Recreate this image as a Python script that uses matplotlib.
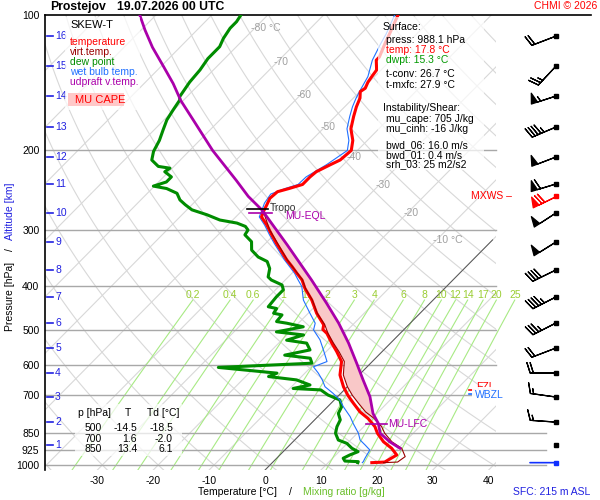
import numpy as np
import matplotlib
matplotlib.use('Agg')
import matplotlib.pyplot as plt
from matplotlib.patches import Rectangle
from matplotlib.transforms import blended_transform_factory
from matplotlib.ticker import NullLocator

plt.rcParams['font.family'] = ['Liberation Sans', 'DejaVu Sans']

# ---------------- data ----------------
temp_p = [988.1, 985, 950, 918, 888, 850, 822, 788, 762, 729, 700, 670, 631, 589, 560, 536, 510, 500, 488,
          460, 430, 405, 388, 375, 362, 350, 336, 322, 308, 293, 281, 273.5, 264, 255.5, 247, 243, 238, 229,
          223, 215, 210, 200, 190, 179, 168, 160, 153, 148, 145.5, 141, 137, 132.5, 126, 124, 115.6, 110, 100]
temp_t = [17.8, 20.0, 20.9, 18.8, 16.2, 13.6, 12.0, 9.3, 6.7, 4.0, 1.6, -0.7, -3.4, -5.5, -8.1, -10.5, -13.1,
          -14.5, -15.2, -18.5, -21.7, -25.0, -27.0, -29.1, -31.2, -33.3, -35.6, -38.0, -40.4, -43.0, -45.4,
          -46.0, -46.6, -47.2, -47.0, -45.5, -43.8, -43.8, -43.6, -42.3, -41.4, -41.1, -42.6, -45.0, -46.7,
          -47.9, -48.8, -49.9, -49.6, -50.2, -50.5, -50.8, -52.6, -52.6, -54.0, -54.9, -56.7]

virt_p = [988.1, 985, 958, 918, 888, 850, 822, 788, 762, 729, 700, 670, 631, 589, 560, 536, 510, 488, 460,
          430, 405, 388, 350, 300, 273.5]
virt_t = [19.9, 22.3, 22.7, 20.6, 17.7, 14.9, 13.2, 10.4, 7.7, 4.9, 2.4, 0.0, -2.8, -5.0, -7.7, -10.2, -12.9,
          -15.0, -18.4, -21.6, -24.9, -26.9, -33.2, -41.7, -46.0]

dew_p = [988.1, 983, 980, 966, 950, 934, 918, 895, 880, 850, 822, 794, 768, 742, 717, 705, 699, 681, 676, 664,
         647, 636, 625, 607, 594, 579, 570, 555, 536, 528, 514, 506, 493, 484, 480, 464, 460, 449, 445, 423,
         408, 398, 388, 382, 366, 353, 345, 333, 319, 308, 300.5, 295, 290, 285.5, 278, 271, 264, 257.6, 249,
         243, 240, 235, 229, 223, 219, 217, 210, 201, 190, 180, 171, 163, 154.5, 152, 141, 132.5, 125, 117.6,
         112.7, 107, 103.5, 100]
dew_t = [15.3, 15.2, 12.7, 11.9, 12.5, 13.4, 11.7, 9.9, 7.8, 6.1, 5.2, 4.6, 3.1, 2.5, 1.0, -1.0, -2.0, -4.2,
         -9.4, -7.0, -10.3, -15.9, -15.0, -26.5, -10.5, -11.7, -16.8, -13.2, -15.0, -19.1, -17.0, -22.4, -18.5,
         -22.1, -24.2, -24.4, -26.2, -26.5, -28.3, -28.6, -28.6, -29.7, -32.5, -33.6, -34.8, -36.5, -38.9,
         -41.3, -42.8, -45.2, -45.5, -46.6, -48.7, -52.3, -55.5, -59.1, -61.2, -63.0, -64.7, -67.4, -70.2,
         -68.6, -68.6, -70.7, -70.4, -72.8, -75.1, -76.3, -77.2, -78.4, -79.5, -80.1, -80.7, -81.3, -82.1,
         -82.4, -83.0, -83.0, -83.8, -84.4, -84.4, -84.8]

wetb_p = [988.1, 983, 966, 926, 903, 880, 850, 808, 781, 742, 717, 693, 670, 647, 625, 605, 589, 555, 527, 501,
          484, 460, 430, 401, 388, 375, 350, 322, 308, 293, 281, 273, 262, 250, 243, 238, 229, 215, 200, 190,
          179, 168, 160, 153, 145.5, 137, 126, 116, 110, 100]
wetb_t = [16.1, 16.1, 15.8, 15.2, 13.5, 11.7, 10.2, 7.5, 5.8, 2.8, 1.0, -1.4, -4.0, -5.7, -7.6, -9.6, -8.1,
          -10.8, -13.2, -16.1, -17.0, -19.7, -23.2, -25.9, -27.7, -29.5, -33.7, -38.4, -40.8, -43.4, -45.8,
          -46.4, -47.3, -47.8, -46.2, -44.6, -44.5, -43.0, -41.8, -43.3, -45.7, -47.4, -48.6, -49.5, -50.3,
          -51.2, -53.3, -54.7, -55.5, -57.3]

parcel_p = [918, 888, 850, 808, 768, 705, 647, 594, 536, 484, 437, 388, 324, 271, 253, 233, 200, 171, 155, 142,
            130, 118, 108, 100]
parcel_t = [20.3, 17.3, 14.1, 12.0, 9.3, 5.8, 1.6, -2.5, -7.5, -12.8, -18.5, -25.3, -35.9, -46.6, -51.4, -56.4,
            -65.9, -74.8, -80.4, -84.8, -89.6, -94.9, -99.3, -102.9]

alt_km = [1, 2, 3, 4, 5, 6, 7, 8, 9, 10, 11, 12, 13, 14, 15, 16]
alt_p = [902.8, 802.9, 706.3, 624.5, 549.5, 483.5, 423.2, 368.6, 319.5, 275.4, 237.4, 206.8, 177.4, 151.4,
         129.9, 111.4]
wind_dir = [0, 274, 278, 270, 249, 243, 243, 244, 238, 237, 253, 249, 247, 252, 223, 249]
wind_spd = [0, 15, 15, 20, 20, 35, 45, 40, 50, 50, 60, 50, 45, 55, 25, 20]
mxws_p, mxws_dir, mxws_spd = 252.5, 244, 70
sfc_p = 988.1

press_levels = [100, 200, 300, 400, 500, 600, 700, 850, 925, 1000]
temp_ticks = [-30, -20, -10, 0, 10, 20, 30, 40]
iso_label_T = [-80, -70, -60, -50, -40, -30, -20, -10]
iso_label_p = [106.7, 127.2, 150.6, 177.4, 207.0, 238.8, 275.4, 316.2]
mix_vals = [0.2, 0.4, 0.6, 1, 1.5, 2, 3, 4, 6, 8, 10, 12, 14, 17, 20, 25]
mix_labels = ['0.2', '0.4', '0.6', '1', '1.5', '2', '3', '4', '6', '8', '10', '12', '14', '17', '20', '25']

tropo_p, eql_p, lfc_p, fzl_p, wbzl_p = 270, 275, 810, 681, 695

table_p = ['500', '700', '850']
table_T = ['-14.5', '1.6', '13.4']
table_Td = ['-18.5', '-2.0', '6.1']

# ---------------- geometry ----------------
W, H = 600, 500
K = 79.6                       # skew (deg C per decade of pressure)
P_BOT = 1000 * 10 ** (5 / 450.)
X_L, X_R = (45 - 270) / 5.59, (591 - 270) / 5.59
X_DIAG = 40.4                  # right edge of the diagram grid
X_ISO_EXT = 49.4               # lower isobars extension
X_BARB = 51.16


def skx(T, p):
    return np.asarray(T, float) + K * np.log10(1000.0 / np.asarray(p, float))


RED = '#ff0000'
DRED = '#990000'
GREEN = '#008c00'
BLUE = '#2070ff'
PURP = '#aa00aa'
ALTB = '#2020e0'
MIXC = '#a8ea84'
MIXT = '#9acd32'

fig = plt.figure(figsize=(W / 100, H / 100), dpi=100)
ax = fig.add_axes([45 / W, 30 / H, 546 / W, 455 / H])
ax.set_yscale('log')
ax.set_ylim(P_BOT, 100)
ax.set_xlim(X_L, X_R)
for s in ['right', 'bottom']:
    ax.spines[s].set_visible(False)
ax.spines['top'].set_linewidth(1.2)
ax.spines['left'].set_linewidth(1.2)

clip = Rectangle((X_L, 100), X_DIAG - X_L, P_BOT - 100, transform=ax.transData, fc='none', ec='none')
ax.add_patch(clip)

# isobars
for p in press_levels[1:]:
    xe = X_ISO_EXT if p >= 850 else X_DIAG
    ax.plot([X_L, xe], [p, p], color='#a8a8a8', lw=1.0, zorder=2)

# isotherms
pp2 = np.array([P_BOT, 100.0])
for T in range(-150, 50, 10):
    ln, = ax.plot(skx([T, T], pp2), pp2, color='#d8d8d8', lw=0.8, zorder=1)
    ln.set_clip_path(clip)
# dry adiabats
pp = np.logspace(np.log10(100), np.log10(P_BOT), 80)
for th in range(-40, 210, 10):
    T = (th + 273.15) * (pp / 1000.0) ** 0.2857 - 273.15
    ln, = ax.plot(skx(T, pp), pp, color='#d8d8d8', lw=0.8, zorder=1)
    ln.set_clip_path(clip)
# 0 deg isotherm highlighted
p0 = np.array([P_BOT, 316.0])
ax.plot(skx([0, 0], p0), p0, color='#555555', lw=0.7, zorder=2)

# isotherm labels
for T, p in zip(iso_label_T, iso_label_p):
    lab = '%d °C' % T if T in (-80, -10) else '%d' % T
    ax.text(skx(T, p) - 0.7, p, lab, color='#a0a0a0', fontsize=7.5, ha='left', va='center', zorder=2)

# mixing ratio lines
pm = np.linspace(P_BOT, 430, 40)
for w, lab in zip(mix_vals, mix_labels):
    e = w * pm / (622.0 + w)
    g = np.log(e / 6.112)
    Td = 243.5 * g / (17.67 - g)
    ax.plot(skx(Td, pm), pm, color=MIXC, lw=0.8, zorder=1.5)
    ax.text(skx(Td[-1], pm[-1]), 419, lab, color=MIXT, fontsize=7.5, ha='center', va='center', zorder=2)

# CAPE shading between parcel and virtual temperature
pg = np.logspace(np.log10(lfc_p), np.log10(eql_p), 200)
xv = np.interp(np.log(pg)[::-1], np.log(virt_p)[::-1], skx(virt_t, virt_p)[::-1])[::-1]
xpc = np.interp(np.log(pg)[::-1], np.log(parcel_p)[::-1], skx(parcel_t, parcel_p)[::-1])[::-1]
ax.fill_betweenx(pg, xv, xpc, where=xpc >= xv, color='#f9c8c8', lw=0, zorder=3)

# profiles
ax.plot(skx(dew_t, dew_p), dew_p, color=GREEN, lw=2.2, zorder=4)
ax.plot(skx(wetb_t, wetb_p), wetb_p, color=BLUE, lw=0.8, zorder=5)
ax.plot(skx(temp_t, temp_p), temp_p, color=RED, lw=2.2, zorder=5)
ax.plot(skx(virt_t, virt_p), virt_p, color=DRED, lw=0.8, zorder=6)
ax.plot(skx(parcel_t, parcel_p), parcel_p, color=PURP, lw=2.0, zorder=6)

# level markers
xt = float(np.interp(np.log(tropo_p), np.log(temp_p[::-1]), skx(temp_t, temp_p)[::-1]))
ax.plot([xt - 3.2, xt + 0.6], [tropo_p, tropo_p], color='k', lw=1.2, zorder=7)
ax.text(xt + 1.0, tropo_p * 0.995, 'Tropo', fontsize=7.5, color='#333333', va='center', ha='left', zorder=7)
xe = float(np.interp(np.log(eql_p), np.log(parcel_p[::-1]), skx(parcel_t, parcel_p)[::-1]))
ax.plot([xe - 2.6, xe + 1.5], [eql_p, eql_p], color=PURP, lw=1.2, zorder=7)
ax.text(xe + 3.8, eql_p * 1.018, 'MU-EQL', fontsize=7.5, color=PURP, va='center', ha='left', zorder=7)
xl = float(np.interp(np.log(lfc_p), np.log(parcel_p[::-1]), skx(parcel_t, parcel_p)[::-1]))
ax.plot([xl - 2.3, xl + 1.6], [lfc_p, lfc_p], color=PURP, lw=1.2, zorder=7)
ax.text(xl + 1.8, lfc_p, 'MU-LFC', fontsize=7.5, color=PURP, va='center', ha='left', zorder=7)

# FZL / WBZL
ax.plot([35.6, 36.7], [fzl_p, fzl_p], color=RED, lw=1.2, zorder=7)
ax.text(36.9, fzl_p * 0.987, 'FZL', fontsize=7.5, color=RED, va='center', ha='left', zorder=7)
ax.plot([35.6, 36.5], [wbzl_p, wbzl_p], color=BLUE, lw=1.2, zorder=7)
ax.text(36.7, wbzl_p * 1.004, 'WBZL', fontsize=7.5, color=BLUE, va='center', ha='left', zorder=8,
        bbox=dict(fc='white', ec='none', pad=2.0, alpha=0.95))

# winds
spd = np.array(wind_spd, float)
dr = np.radians(np.array(wind_dir, float))
u = -spd * np.sin(dr)
v = -spd * np.cos(dr)
ap = np.array(alt_p)
m = spd > 0
ax.barbs(np.full(m.sum(), X_BARB), ap[m], u[m], v[m], length=6.1, lw=0.9, color='k', zorder=7)
ax.plot(np.full(len(ap), X_BARB), ap, 's', ms=2.6, color='k', zorder=8)
mr = np.radians(mxws_dir)
ax.barbs([X_BARB], [mxws_p], [-mxws_spd * np.sin(mr)], [-mxws_spd * np.cos(mr)], length=6.1, lw=0.9,
         color=RED, zorder=7)
ax.plot([X_BARB], [mxws_p], 's', ms=2.6, color=RED, zorder=8)
ax.text(X_BARB - 7.9, mxws_p, 'MXWS \u2013', fontsize=7.5, color=RED, va='center', ha='right', zorder=7)
ax.annotate('', xy=(X_BARB, sfc_p), xytext=(-26, 0), textcoords='offset pixels',
            arrowprops=dict(arrowstyle='-', color='#1030ff', lw=1.2, shrinkA=0, shrinkB=0), zorder=7)
ax.plot([X_BARB], [sfc_p], 's', ms=2.6, color='#1030ff', zorder=8)

# altitude marks
tb = blended_transform_factory(ax.transAxes, ax.transData)
for km, p in zip(alt_km, alt_p):
    ax.plot([0.0037, 0.0147], [p, p], transform=tb, color=ALTB, lw=1.2, zorder=7, clip_on=False)
    ax.text(0.0185, p, str(km), transform=tb, color=ALTB, fontsize=7.5, va='center', ha='left', zorder=7)

# ticks
ax.set_yticks(press_levels)
ax.set_yticklabels([str(p) for p in press_levels])
ax.yaxis.set_minor_locator(NullLocator())
ax.tick_params(axis='y', length=0, pad=4, labelsize=7.5)
ax.set_xticks(skx(temp_ticks, [P_BOT] * len(temp_ticks)))
ax.set_xticklabels([str(t) for t in temp_ticks])
ax.tick_params(axis='x', length=0, pad=4, labelsize=7.5)


# ---------------- figure-level annotations ----------------
def ft(x, y, s, **kw):
    kw.setdefault('va', 'center')
    kw.setdefault('ha', 'left')
    kw.setdefault('fontsize', 7.5)
    return fig.text(x / W, 1 - y / H, s, **kw)


def fbox(x0, y0, x1, y1, fc='white', alpha=0.72):
    fig.add_artist(Rectangle((x0 / W, 1 - y1 / H), (x1 - x0) / W, (y1 - y0) / H, transform=fig.transFigure,
                             fc=fc, ec='none', alpha=alpha, zorder=2))


fbox(65, 17, 140, 110)
fbox(378, 17, 484, 170)
fbox(75, 404, 182, 456)
fbox(68, 93, 124, 106, fc='#ffc8c8', alpha=1.0)

ft(50, 7, 'Prostejov', fontsize=8.8, fontweight='bold')
ft(117, 7, '19.07.2026 00 UTC', fontsize=8.8, fontweight='bold')
ft(597, 6, 'CHMI \u00a9 2026', color=RED, ha='right')

ft(70, 25, 'SKEW-T', fontsize=8)
ft(70, 42, 'temperature', color=RED)
ft(70, 52, 'virt.temp.', color=DRED)
ft(70, 62, 'dew point', color=GREEN)
ft(70, 72, 'wet bulb temp.', color=BLUE)
ft(70, 82, 'udpraft v.temp.', color=PURP)
ft(75, 100, 'MU CAPE', color=RED, fontsize=8)

ft(383, 27, 'Surface:')
ft(386, 40, 'press: 988.1 hPa')
ft(386, 50, 'temp: 17.8 °C', color=RED)
ft(386, 60, 'dwpt: 15.3 °C', color='#009900')
ft(386, 74, 't-conv: 26.7 °C')
ft(386, 85, 't-mxfc: 27.9 °C')
ft(383, 108, 'Instability/Shear:')
ft(386, 119, 'mu_cape: 705 J/kg')
ft(386, 129, 'mu_cinh: -16 J/kg')
ft(386, 145, 'bwd_06: 16.0 m/s')
ft(386, 155, 'bwd_01: 0.4 m/s')
ft(386, 164, 'srh_03: 25 m2/s2')

ft(78, 413, 'p [hPa]')
ft(125, 413, 'T')
ft(147, 413, 'Td [°C]')
for i, y in enumerate([428, 439, 449]):
    ft(102, y, table_p[i], ha='right')
    ft(137, y, table_T[i], ha='right')
    ft(173, y, table_Td[i], ha='right')

ft(10, 296, 'Pressure [hPa]', rotation=90, ha='center')
ft(10, 250, '/', rotation=90, ha='center')
ft(10, 211, 'Altitude [km]', rotation=90, ha='center', color=ALTB)

ft(238, 492, 'Temperature [°C]', ha='center')
ft(290, 492, '/', ha='center')
ft(344, 492, 'Mixing ratio [g/kg]', ha='center', color='#6abf2a')
ft(590, 492, 'SFC: 215 m ASL', ha='right', color=ALTB)

fig.savefig('out.png', dpi=100)
